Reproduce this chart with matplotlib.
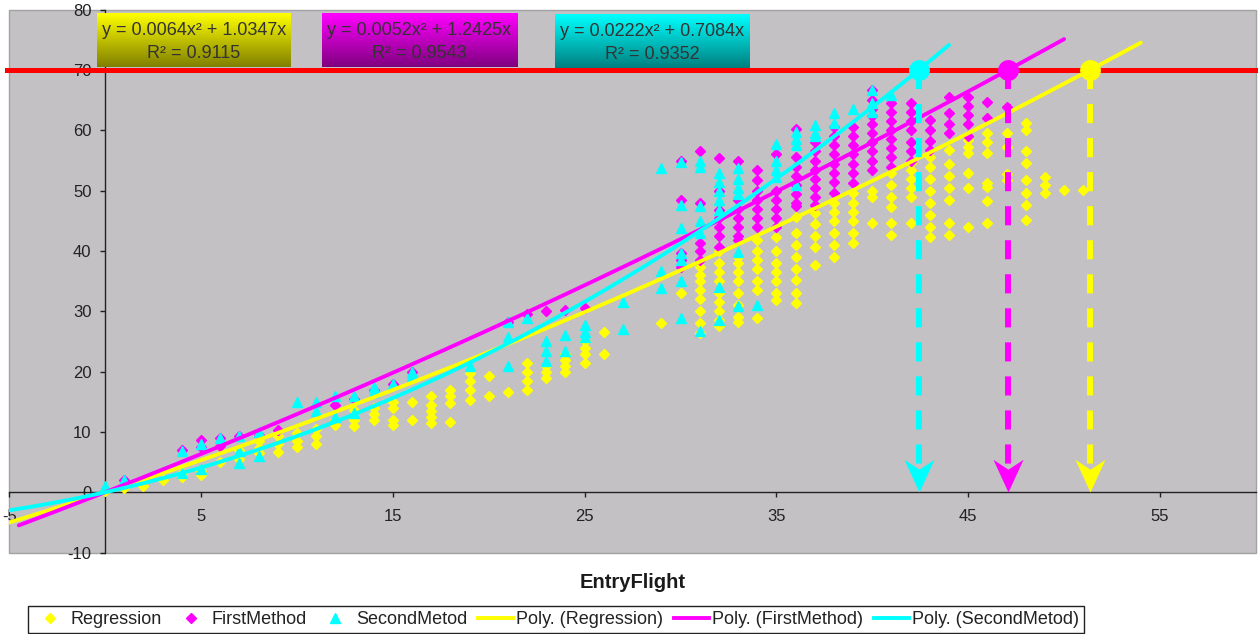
import numpy as np
import matplotlib.pyplot as plt
from matplotlib.lines import Line2D
from matplotlib.patches import Rectangle

plt.rcParams['font.family'] = ['Liberation Sans', 'DejaVu Sans']
plt.rcParams['axes.unicode_minus'] = False

# --- data --------------------------------------------------------------
# Regression (yellow diamonds): x column and the y values in it
reg_cols = [0, 1, 2, 3, 4, 5, 6, 7, 8, 9, 10, 11, 12, 13, 14, 15, 16, 17, 18,
            19, 20, 21, 22, 23, 24, 25, 26, 29, 30, 31, 32, 33, 34, 35, 36,
            37, 38, 39, 40, 41, 42, 43, 44, 45, 46, 47, 48, 49, 50, 51]
reg_vals = [
    [0.2], [0.7], [1.0], [2.1], [2.6, 3.2], [2.9, 3.5], [5.0, 7.6], [5.5, 7.0],
    [6.5, 7.3, 8.5], [6.7, 8.0, 9.3], [7.5, 8.5, 9.9], [8.0, 9.3, 10.5],
    [11.2, 12.0], [11.0, 12.0, 13.7], [12.0, 13.0, 14.0], [11.2, 12.0, 14.0, 15.0],
    [12.0, 15.0], [11.5, 12.5, 13.5, 14.5, 16.0], [11.7, 14.8, 16.0, 17.0],
    [15.3, 17.0, 18.5, 19.8], [16.0, 19.3], [16.7], [17.0, 18.5, 20.0, 21.5],
    [19.0, 20.0, 21.0], [20.0, 21.0, 22.0, 23.0], [21.5, 23.0, 24.0, 25.0],
    [23.0, 26.6], [28.0], [33.0],
    [26.4, 28.0, 30.0, 32.0, 33.5, 35.0, 36.0, 37.4],
    [27.5, 28.5, 30.0, 31.5, 33.0, 35.0, 36.5, 38.0, 40.0],
    [28.3, 29.0, 31.0, 33.0, 35.0, 36.5, 38.0, 39.0],
    [28.9, 33.5, 35.0, 37.0, 38.5, 40.0, 41.8],
    [31.9, 33.0, 35.0, 36.5, 38.0, 40.0, 42.4],
    [31.4, 33.0, 35.2, 37.0, 39.0, 41.0, 43.0, 45.7],
    [37.7, 40.7, 42.5, 44.5, 46.3],
    [39.0, 41.0, 43.0, 45.0, 46.5, 48.0],
    [41.3, 43.0, 45.0, 46.5, 48.0, 49.6],
    [44.6, 49.0, 50.0],
    [42.6, 44.6, 47.3, 49.0, 51.0, 53.0],
    [44.6, 49.0, 50.5, 52.0, 53.5, 54.6],
    [42.4, 44.0, 46.0, 48.0, 50.0, 52.0, 54.0, 55.6],
    [42.6, 44.6, 48.5, 50.5, 52.5, 54.5, 56.7],
    [44.0, 50.5, 52.9, 56.2, 57.3, 58.4],
    [44.6, 48.3, 50.6, 51.3, 56.2, 58.0, 59.5],
    [51.8, 52.7, 57.3, 59.5],
    [45.2, 47.6, 49.6, 51.8, 54.6, 56.6, 60.0, 61.2],
    [49.6, 51.0, 52.3], [50.1], [50.1],
]

# FirstMethod (magenta diamonds)
first_cols = [1, 4, 5, 6, 7, 8, 9, 12, 13, 14, 15, 16, 21, 22, 23, 24, 25,
              30, 31, 32, 33, 34, 35, 36, 37, 38, 39, 40, 41, 42, 43, 44, 45,
              46, 47]
first_vals = [
    [2.0], [7.0], [7.5, 8.7], [7.6, 9.0], [9.3], [9.5], [10.4], [14.5], [15.5],
    [17.0], [18.0], [20.0], [28.3], [29.5], [30.0], [30.3], [30.5],
    [37.4, 38.5, 39.7, 48.5, 55.0],
    [38.5, 40.0, 41.3, 48.0, 56.5],
    [40.7, 42.5, 44.0, 45.5, 46.8, 50.0, 55.4],
    [41.8, 42.5, 44.0, 45.5, 47.0, 48.5, 55.0],
    [44.0, 45.5, 47.0, 48.5, 50.0, 51.7, 53.4],
    [44.0, 45.5, 47.0, 48.5, 50.0, 56.0],
    [47.4, 48.0, 49.5, 51.0, 52.5, 54.0, 55.6, 60.3],
    [47.6, 49.0, 50.5, 52.0, 53.5, 55.0, 56.5, 58.0],
    [49.6, 51.5, 53.0, 54.5, 56.0, 57.5, 59.0, 60.5],
    [51.3, 53.0, 54.5, 56.0, 57.5, 59.0, 60.6],
    [53.4, 55.0, 56.5, 58.0, 59.5, 61.0, 62.3, 63.5, 65.0, 66.7],
    [54.0, 55.5, 57.0, 58.5, 60.0, 61.5, 63.0, 64.5],
    [55.0, 56.5, 58.0, 60.0, 61.5, 63.0, 64.5],
    [56.7, 58.3, 60.0, 61.7],
    [59.5, 61.0, 62.8, 65.6],
    [59.0, 61.0, 62.5, 64.0, 65.6],
    [62.0, 64.7], [63.9],
]

# SecondMetod (cyan triangles)
second_cols = [0, 1, 4, 5, 6, 7, 8, 10, 11, 12, 13, 14, 15, 16, 19, 21, 22,
               23, 24, 25, 27, 29, 30, 31, 32, 33, 34, 35, 36, 37, 38, 39, 40,
               41]
second_vals = [
    [1.0], [2.1], [3.2, 6.8], [3.8, 8.0], [9.0], [4.9, 6.8, 9.3], [6.0, 10.0],
    [15.0], [13.4, 15.0], [12.5, 15.9], [13.1, 15.9], [16.6, 17.5], [18.0],
    [19.3, 20.0], [20.9], [20.9, 25.8, 28.3], [28.9], [21.7, 23.5, 25.0],
    [23.5, 26.0], [25.8, 26.5, 27.7], [27.0, 31.6],
    [33.9, 36.6, 53.8],
    [28.9, 35.0, 38.5, 39.7, 43.8, 47.6, 54.8],
    [26.7, 43.0, 45.0, 47.4, 54.0, 55.0],
    [28.6, 34.0, 46.8, 48.5, 50.0, 51.5, 53.0],
    [30.8, 39.9, 49.5, 50.5, 52.0, 53.7],
    [31.0],
    [52.3, 53.5, 55.0, 57.8],
    [51.0, 57.6, 58.5, 59.8],
    [59.0, 59.5, 60.9],
    [61.2, 62.8], [63.6], [63.0, 64.5, 66.7], [65.8],
]

# polynomial trendlines y = a x^2 + b x (from the chart labels)
series_names = ['Regression', 'FirstMethod', 'SecondMetod']
coef_a = [0.0064, 0.0052, 0.0222]
coef_b = [1.0347, 1.2425, 0.7084]
r_squared = [0.9115, 0.9543, 0.9352]
trend_start = [-5, -4.5, -5]
trend_end = [54, 50, 44]
threshold = 70

colors = ['#ffff00', '#ff00ff', '#00ffff']
dark = ['#808000', '#800080', '#008080']
markers = ['D', 'D', '^']
msizes = [5.0, 5.0, 7.2]


def flatten(cols, vals):
    xs, ys = [], []
    for c, v in zip(cols, vals):
        xs += [c] * len(v)
        ys += v
    return np.array(xs, float), np.array(ys, float)


fig = plt.figure(figsize=(12.58, 6.34), dpi=100)
ax = fig.add_axes([9.2 / 1258, 1 - 552.6 / 634, 1246.7 / 1258, 542.9 / 634])
ax.set_facecolor('#c3c1c4')

scatter_sets = [flatten(reg_cols, reg_vals), flatten(first_cols, first_vals),
                flatten(second_cols, second_vals)]
for i, (xs, ys) in enumerate(scatter_sets):
    ax.plot(xs, ys, ls='none', marker=markers[i], ms=msizes[i], color=colors[i],
            mec=colors[i], zorder=3 + i)

# trendlines
for i in range(3):
    xt = np.linspace(trend_start[i], trend_end[i], 300)
    ax.plot(xt, coef_a[i] * xt ** 2 + coef_b[i] * xt, color=colors[i], lw=2.8,
            zorder=6, solid_capstyle='round')

# threshold line
ax.axhline(threshold, xmin=-0.002, color='#ff0000', lw=3.6, zorder=7, clip_on=False)

# crossing points and dashed arrows down to the axis
head = [(0, 0), (-0.46, 1), (0, 0.7), (0.46, 1), (0, 0)]
for i in range(3):
    roots = np.roots([coef_a[i], coef_b[i], -threshold])
    xi = roots[roots > 0].real.max()
    ax.plot([xi, xi], [threshold, 4], color=colors[i], lw=4.3,
            ls=(0, (3.2, 2.5)), zorder=8)
    ax.plot(xi, 0, marker=head, ms=47, color=colors[i], mew=0, zorder=9)
    ax.plot(xi, threshold, 'o', ms=15, color=colors[i], mew=0, zorder=9)

# equation boxes
box_x = [(-0.42, 9.69), (11.31, 21.48), (23.46, 33.62)]
box_y = [(70.5, 79.45), (70.5, 79.45), (70.33, 79.28)]
for i in range(3):
    t = np.linspace(0, 1, 64)[:, None, None]
    top = np.array(plt.matplotlib.colors.to_rgb(colors[i]))
    bot = np.array(plt.matplotlib.colors.to_rgb(dark[i]))
    grad = (1 - t) * top + t * bot
    (x0, x1), (y0, y1) = box_x[i], box_y[i]
    ax.imshow(grad, extent=(x0, x1, y0, y1), aspect='auto', zorder=10,
              interpolation='bilinear')
    xc = (x0 + x1) / 2
    ax.text(xc, y1 - 2.85, f'y = {coef_a[i]:.4f}x\u00b2 + {coef_b[i]:.4f}x',
            ha='center', va='center', fontsize=13, color='#333333', zorder=11)
    ax.text(xc, y1 - 6.65, f'R\u00b2 = {r_squared[i]:.4f}', ha='center',
            va='center', fontsize=13, color='#333333', zorder=11)

ax.set_xlim(-5, 60)
ax.set_ylim(-10, 80)
ax.set_xticks(np.arange(-5, 60, 10))
ax.set_yticks(np.arange(-10, 81, 10))

for s in ['top', 'right']:
    ax.spines[s].set_visible(False)
ax.spines['left'].set_position(('data', 0))
ax.spines['bottom'].set_position(('data', 0))
for s in ['left', 'bottom']:
    ax.spines[s].set_color('#222222')
    ax.spines[s].set_linewidth(1.0)
    ax.spines[s].set_zorder(2)
ax.tick_params(axis='both', direction='out', length=3.8, width=1.0,
               color='#222222', labelsize=12, labelcolor='#222222')
ax.tick_params(axis='x', pad=8.5)
ax.tick_params(axis='y', pad=6)

# plot-area border
ax.add_patch(Rectangle((0, 0), 1, 1, transform=ax.transAxes, fill=False,
                       edgecolor='#a2a2a2', lw=1.0, zorder=1, clip_on=False))

fig.text(633 / 1258, 1 - 583 / 634, 'EntryFlight', ha='center', va='center',
         fontsize=14.5, fontweight='bold', color='#1a1a1a')

handles = [Line2D([], [], ls='none', marker=markers[i], ms=msizes[i] + 0.4,
                  color=colors[i]) for i in range(3)]
handles += [Line2D([], [], color=colors[i], lw=2.8) for i in range(3)]
labels = series_names + [f'Poly. ({n})' for n in series_names]
leg = fig.legend(handles, labels, loc='center', ncol=6,
                 bbox_to_anchor=(556 / 1258, 1 - 619.5 / 634),
                 frameon=True, fancybox=False, framealpha=1, edgecolor='#222222',
                 fontsize=13, handlelength=1.95, handletextpad=0.17,
                 columnspacing=0.6, borderpad=0.25)
leg.get_frame().set_linewidth(1.0)
for txt in leg.get_texts():
    txt.set_color('#222222')

fig.savefig('out.png', dpi=100)
